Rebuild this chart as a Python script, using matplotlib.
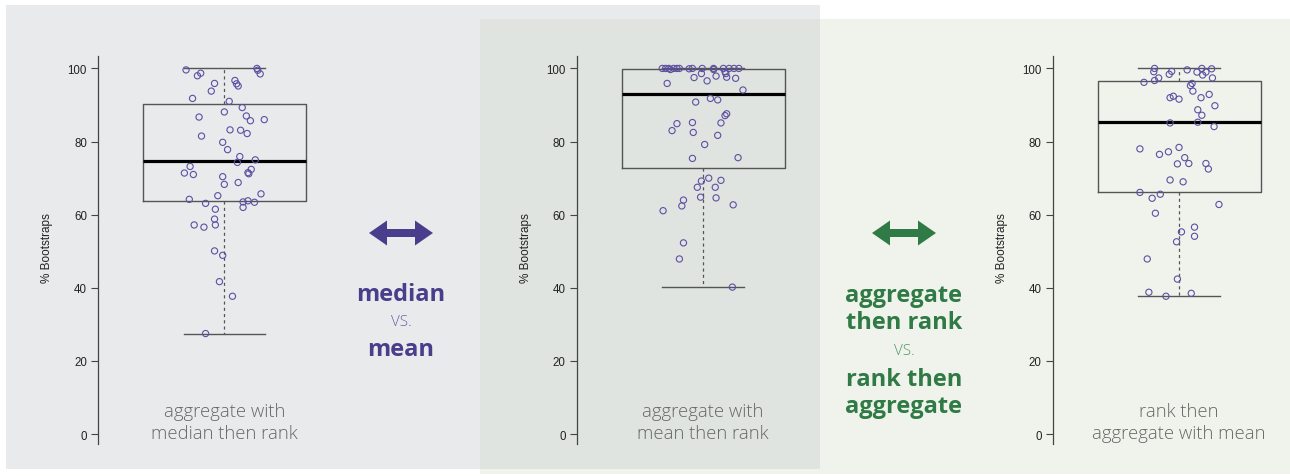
import matplotlib
matplotlib.use("Agg")
import matplotlib.pyplot as plt
from matplotlib.patches import Rectangle, FancyArrow

# ---- data ----
panel_labels = ["aggregate with\nmedian then rank",
                "aggregate with\nmean then rank",
                "rank then\naggregate with mean"]

# box stats: q1, median, q3, lower whisker, upper whisker
box_q1 = [63.7, 72.7, 66.2]
box_med = [74.7, 93.0, 85.3]
box_q3 = [90.2, 99.8, 96.7]
box_lo = [27.5, 40.1, 37.8]
box_hi = [100.0, 100.0, 100.0]

# jittered points (x jitter in box half-width units, y in % bootstraps)
jit_median = [-0.47, -0.33, -0.29, -0.12, -0.16, 0.13, 0.15, 0.17, 0.40, 0.41, 0.44,
              -0.39, 0.06, 0.00, 0.22, -0.31, 0.27, 0.32, 0.49, 0.07, 0.20, 0.28,
              -0.28, -0.02, 0.04, 0.19, 0.16, 0.38, -0.42, -0.49, -0.38, 0.33, 0.29,
              0.30, -0.02, 0.00, 0.17, -0.08, 0.45, -0.43, -0.23, 0.23, 0.29, 0.37,
              0.23, -0.11, -0.12, -0.11, -0.37, -0.25, -0.12, -0.02, -0.06, 0.10, -0.23]
val_median = [99.6, 98.0, 98.7, 95.9, 93.8, 96.7, 95.8, 95.2, 100.0, 99.5, 98.5,
              91.8, 91.0, 88.1, 89.3, 86.7, 87.0, 85.7, 86.0, 83.2, 83.1, 82.2,
              81.5, 79.8, 77.8, 75.9, 74.3, 75.0, 73.2, 71.4, 71.0, 72.4, 71.5,
              71.2, 70.4, 68.3, 68.8, 65.2, 65.7, 64.2, 63.1, 63.5, 63.8, 63.4,
              62.0, 61.5, 58.8, 57.2, 57.2, 56.6, 50.1, 48.9, 41.7, 37.7, 27.5]

jit_mean = [-0.50, -0.46, -0.42, -0.40, -0.36, -0.32, -0.29, -0.17, -0.13, -0.01,
            0.13, 0.13, 0.25, 0.32, 0.38, 0.44,
            -0.02, -0.11, 0.05, 0.16, 0.27, 0.28, 0.29, 0.40, -0.44, 0.49,
            0.09, 0.18, -0.09, 0.29, 0.27, -0.32, -0.13, 0.22, -0.38, -0.12,
            0.18, 0.02, -0.13, 0.43, 0.07, -0.02, 0.22, -0.07, 0.15, -0.03,
            0.16, -0.24, -0.26, 0.37, -0.49, -0.24, -0.29, 0.36]
val_mean = [100.0, 100.0, 100.0, 99.7, 100.0, 100.0, 100.0, 99.9, 100.0, 100.0,
            100.0, 99.7, 100.0, 100.0, 100.0, 100.0,
            98.6, 97.5, 96.6, 97.9, 99.1, 98.6, 97.6, 97.3, 95.9, 94.1,
            91.8, 91.4, 90.8, 87.6, 87.1, 84.9, 85.2, 85.1, 83.0, 82.5,
            81.7, 79.2, 75.4, 75.6, 70.0, 69.2, 69.4, 67.5, 67.5, 64.8,
            64.6, 64.0, 62.4, 62.7, 61.1, 52.3, 47.9, 40.2]

jit_rank = [-0.30, -0.31, -0.09, 0.10, 0.28, 0.40, 0.22, 0.33, -0.12, 0.29,
            -0.25, -0.30, 0.41, -0.43, 0.16, 0.14, 0.17, -0.07, -0.11, 0.00,
            0.27, 0.37, 0.44, 0.23, 0.28, -0.11, 0.23, 0.43, -0.48, 0.00,
            -0.13, -0.24, 0.07, -0.02, 0.12, 0.33, 0.36, -0.11, 0.05, -0.48,
            -0.23, -0.33, 0.49, -0.29, 0.19, 0.03, 0.19, -0.03, -0.39, -0.02,
            -0.37, 0.15, -0.16]
val_rank = [100.0, 99.1, 99.2, 99.6, 100.0, 99.9, 99.0, 99.0, 98.4, 98.2,
            97.4, 96.7, 97.4, 96.2, 95.9, 95.3, 93.8, 92.4, 92.0, 91.6,
            92.0, 92.9, 89.8, 88.7, 87.2, 85.1, 85.3, 84.1, 78.0, 78.4,
            77.2, 76.5, 75.6, 73.9, 74.0, 74.0, 72.5, 69.5, 69.0, 66.1,
            65.6, 64.5, 62.8, 60.4, 56.6, 55.3, 54.1, 52.6, 47.9, 42.4,
            38.8, 38.5, 37.7]

jitters = [jit_median, jit_mean, jit_rank]
values = [val_median, val_mean, val_rank]

y_ticks = [0, 20, 40, 60, 80, 100]

W, H = 1290, 477
PURPLE = "#4a3d8c"
GREEN = "#2f7a45"
POINT = "#5d4fa3"


def main() -> None:
    fig = plt.figure(figsize=(W / 100, H / 100), dpi=100)
    fig.patch.set_facecolor("white")

    # overlay in pixel coordinates for backgrounds and annotations
    bg = fig.add_axes([0, 0, 1, 1], zorder=0)
    bg.set_xlim(0, W)
    bg.set_ylim(H, 0)
    bg.axis("off")
    bg.add_patch(Rectangle((6, 6), 814, 464, color="#e9eaec", lw=0))
    bg.add_patch(Rectangle((480, 20), 810, 455, color="#f0f3ec", lw=0))
    bg.add_patch(Rectangle((480, 20), 340, 450, color="#dfe4e0", lw=0))

    # panels
    lefts = [98, 576.7, 1052.7]
    hw = 81.5  # px per jitter unit
    x0, x1 = -1.55, 1.5
    y0, y1 = -2.7, 103.4
    for i, left in enumerate(lefts):
        ax = fig.add_axes([left / W, 32 / H, (x1 - x0) * hw / W, 388 / H], zorder=1)
        ax.patch.set_alpha(0)

        stats = [dict(med=box_med[i], q1=box_q1[i], q3=box_q3[i],
                      whislo=box_lo[i], whishi=box_hi[i], fliers=[])]
        ax.bxp(stats, positions=[0], widths=2.0, showfliers=False,
               capwidths=1.0, manage_ticks=False,
               boxprops=dict(color="#555555", lw=1.0),
               medianprops=dict(color="black", lw=2.3),
               whiskerprops=dict(color="#555555", lw=0.9, linestyle=(0, (2.5, 2.5))),
               capprops=dict(color="#555555", lw=1.0))
        ax.scatter(jitters[i], values[i], s=20, facecolors="none",
                   edgecolors=POINT, linewidths=0.8, zorder=3)

        ax.set_xlim(x0, x1)
        ax.set_ylim(y0, y1)
        for s in ["top", "right", "bottom"]:
            ax.spines[s].set_visible(False)
        ax.spines["left"].set_color("#444444")
        ax.spines["left"].set_linewidth(0.9)
        ax.set_xticks([])
        ax.set_yticks(y_ticks)
        ax.tick_params(axis="y", length=5, width=0.8, color="#444444",
                       labelsize=8.3, labelcolor="#222222", pad=3)
        for lab in ax.get_yticklabels():
            lab.set_fontfamily("Liberation Sans")
        ax.text(-0.205, 0.508, "% Bootstraps", transform=ax.transAxes,
                rotation=90, ha="center", va="center", fontsize=8.5,
                color="#222222", family="Liberation Sans")

        ax.text(0, 3.3, panel_labels[i], ha="center", va="center",
                fontsize=13.3, color="#666666", family="Open Sans",
                weight="light", linespacing=1.25)

    # middle annotations
    def double_arrow(xc, y, color):
        for d in (-1, 1):
            bg.add_patch(FancyArrow(xc, y, d * 32, 0, width=8, head_width=25,
                                    head_length=18, length_includes_head=True,
                                    color=color, lw=0))

    double_arrow(401, 234, PURPLE)
    bg.text(401, 295, "median", ha="center", va="center", fontsize=17,
            weight="bold", color=PURPLE, family="Open Sans")
    bg.text(401, 323, "VS.", ha="center", va="center", fontsize=11,
            weight="light", color="#6a5fa8", family="Open Sans")
    bg.text(401, 350, "mean", ha="center", va="center", fontsize=17,
            weight="bold", color=PURPLE, family="Open Sans")

    double_arrow(904, 234, GREEN)
    for txt, y, big in [("aggregate", 296, True), ("then rank", 323, True),
                        ("VS.", 352, False), ("rank then", 380, True),
                        ("aggregate", 407, True)]:
        bg.text(904, y, txt, ha="center", va="center",
                fontsize=17 if big else 11, weight="bold" if big else "light",
                color=GREEN if big else "#4f9462", family="Open Sans")

    fig.savefig("out.png", dpi=100)
    plt.close(fig)


if __name__ == "__main__":
    main()
